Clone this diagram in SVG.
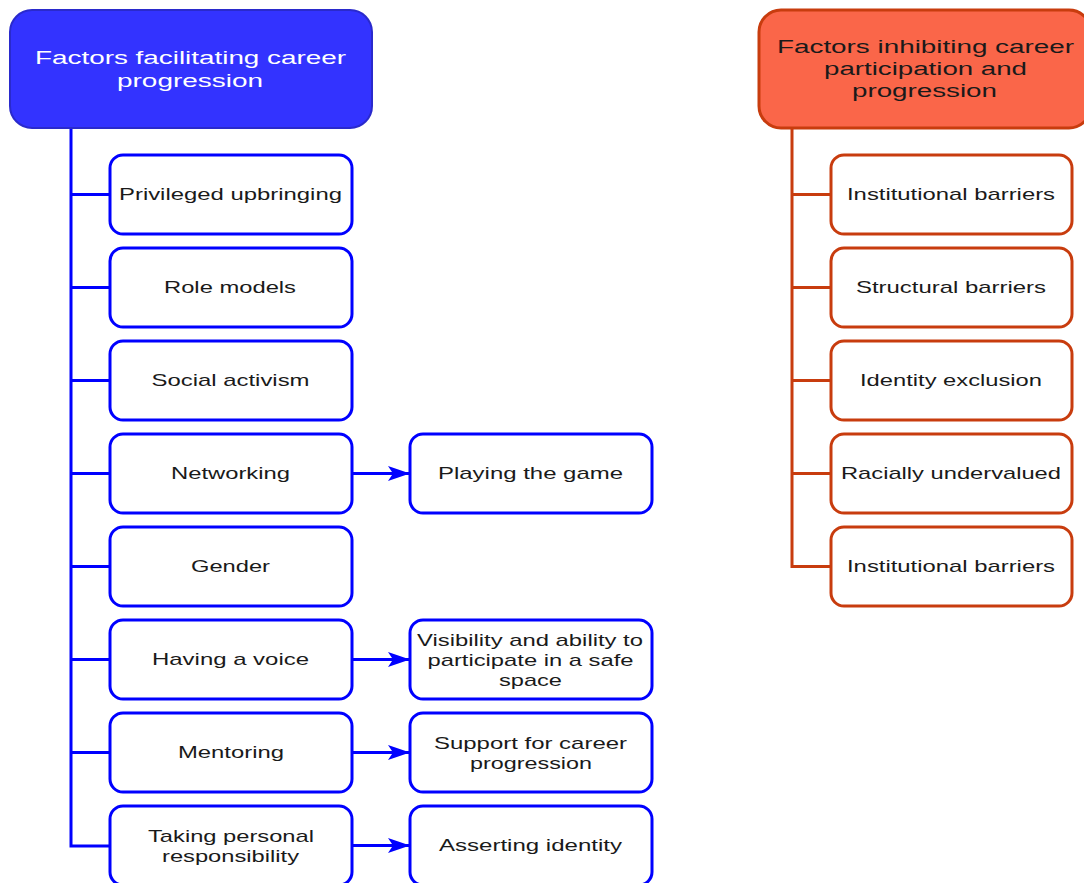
<svg xmlns="http://www.w3.org/2000/svg" width="1084" height="883" viewBox="0 0 1084 883">
  <defs>
    <marker id="arrow" markerWidth="22" markerHeight="15" refX="21" refY="7.5" orient="auto" markerUnits="userSpaceOnUse">
      <path d="M0,0 L22,7.5 L0,15 L5,7.5 Z" fill="#0000ff"/>
    </marker>
    <style>
      text { font-family: "Liberation Sans", Arial, sans-serif; text-anchor: middle; dominant-baseline: central; }
      .hdr { font-size: 18px; }
      .lbl { font-size: 17px; fill: #1a1a1a; }
      .bbox { fill: #ffffff; stroke: #0000ff; stroke-width: 3; }
      .rbox { fill: #ffffff; stroke: #c83c0e; stroke-width: 3; }
      .bline { fill: none; stroke: #0000ff; stroke-width: 3; }
      .rline { fill: none; stroke: #c83c0e; stroke-width: 3; }
    </style>
  </defs>
  <rect width="1084" height="883" fill="#ffffff"/>

  <!-- connectors -->
  <g id="connectors">
    <!-- blue tree spine and branches -->
    <path class="bline" d="M71,128 V846 H110"/>
    <path class="bline" d="M71,194.5 H110 M71,287.5 H110 M71,380.5 H110 M71,473.5 H110 M71,566.5 H110 M71,659.5 H110 M71,752.5 H110"/>
    <!-- arrows to second column -->
    <path class="bline" d="M352,473.5 H409" marker-end="url(#arrow)"/>
    <path class="bline" d="M352,659.5 H409" marker-end="url(#arrow)"/>
    <path class="bline" d="M352,752.5 H409" marker-end="url(#arrow)"/>
    <path class="bline" d="M352,845.5 H409" marker-end="url(#arrow)"/>
    <!-- red tree spine and branches -->
    <path class="rline" d="M792,128 V566.5 H831"/>
    <path class="rline" d="M792,194.5 H831 M792,287.5 H831 M792,380.5 H831 M792,473.5 H831"/>
  </g>

  <!-- headers -->
  <g id="hdr-facilitating">
    <rect x="10" y="10" width="362" height="118" rx="22" fill="#3333ff" stroke="#2a2acc" stroke-width="2"/>
    <text class="hdr" x="190.5" y="58" fill="#ffffff" textLength="311" lengthAdjust="spacingAndGlyphs">Factors facilitating career</text>
    <text class="hdr" x="190" y="81" fill="#ffffff" textLength="146" lengthAdjust="spacingAndGlyphs">progression</text>
  </g>
  <g id="hdr-inhibiting">
    <rect x="759" y="10" width="332" height="118" rx="22" fill="#fa6649" stroke="#c83c0e" stroke-width="3"/>
    <text class="hdr" x="925.5" y="47" fill="#1a1a1a" textLength="297" lengthAdjust="spacingAndGlyphs">Factors inhibiting career</text>
    <text class="hdr" x="925.5" y="69" fill="#1a1a1a" textLength="203" lengthAdjust="spacingAndGlyphs">participation and</text>
    <text class="hdr" x="924.5" y="91" fill="#1a1a1a" textLength="145" lengthAdjust="spacingAndGlyphs">progression</text>
  </g>

  <!-- facilitating factors -->
  <g id="n-privileged"><rect class="bbox" x="110" y="155" width="242" height="79" rx="13"/><text class="lbl" x="230.5" y="194.5" textLength="223" lengthAdjust="spacingAndGlyphs">Privileged upbringing</text></g>
  <g id="n-role"><rect class="bbox" x="110" y="248" width="242" height="79" rx="13"/><text class="lbl" x="230" y="287.5" textLength="132" lengthAdjust="spacingAndGlyphs">Role models</text></g>
  <g id="n-activism"><rect class="bbox" x="110" y="341" width="242" height="79" rx="13"/><text class="lbl" x="230.5" y="380.5" textLength="158" lengthAdjust="spacingAndGlyphs">Social activism</text></g>
  <g id="n-networking"><rect class="bbox" x="110" y="434" width="242" height="79" rx="13"/><text class="lbl" x="230.5" y="473.5" textLength="119" lengthAdjust="spacingAndGlyphs">Networking</text></g>
  <g id="n-gender"><rect class="bbox" x="110" y="527" width="242" height="79" rx="13"/><text class="lbl" x="230.5" y="566.5" textLength="79" lengthAdjust="spacingAndGlyphs">Gender</text></g>
  <g id="n-voice"><rect class="bbox" x="110" y="620" width="242" height="79" rx="13"/><text class="lbl" x="230.5" y="659.5" textLength="157" lengthAdjust="spacingAndGlyphs">Having a voice</text></g>
  <g id="n-mentoring"><rect class="bbox" x="110" y="713" width="242" height="79" rx="13"/><text class="lbl" x="231" y="752.5" textLength="106" lengthAdjust="spacingAndGlyphs">Mentoring</text></g>
  <g id="n-responsibility"><rect class="bbox" x="110" y="806" width="242" height="79" rx="13"/><text class="lbl" x="231" y="836" textLength="166" lengthAdjust="spacingAndGlyphs">Taking personal</text><text class="lbl" x="230.5" y="856" textLength="137" lengthAdjust="spacingAndGlyphs">responsibility</text></g>

  <!-- outcomes -->
  <g id="n-game"><rect class="bbox" x="410" y="434" width="242" height="79" rx="13"/><text class="lbl" x="530.5" y="473.5" textLength="185" lengthAdjust="spacingAndGlyphs">Playing the game</text></g>
  <g id="n-visibility"><rect class="bbox" x="410" y="620" width="242" height="79" rx="13"/><text class="lbl" x="530" y="640" textLength="226" lengthAdjust="spacingAndGlyphs">Visibility and ability to</text><text class="lbl" x="530.5" y="660" textLength="206" lengthAdjust="spacingAndGlyphs">participate in a safe</text><text class="lbl" x="530.5" y="680" textLength="63" lengthAdjust="spacingAndGlyphs">space</text></g>
  <g id="n-support"><rect class="bbox" x="410" y="713" width="242" height="79" rx="13"/><text class="lbl" x="530.5" y="743" textLength="193" lengthAdjust="spacingAndGlyphs">Support for career</text><text class="lbl" x="531" y="763" textLength="122" lengthAdjust="spacingAndGlyphs">progression</text></g>
  <g id="n-asserting"><rect class="bbox" x="410" y="806" width="242" height="79" rx="13"/><text class="lbl" x="530.5" y="845.5" textLength="183" lengthAdjust="spacingAndGlyphs">Asserting identity</text></g>

  <!-- inhibiting factors -->
  <g id="n-institutional-1"><rect class="rbox" x="831" y="155" width="241" height="79" rx="13"/><text class="lbl" x="951" y="194.5" textLength="208" lengthAdjust="spacingAndGlyphs">Institutional barriers</text></g>
  <g id="n-structural"><rect class="rbox" x="831" y="248" width="241" height="79" rx="13"/><text class="lbl" x="951" y="287.5" textLength="190" lengthAdjust="spacingAndGlyphs">Structural barriers</text></g>
  <g id="n-identity"><rect class="rbox" x="831" y="341" width="241" height="79" rx="13"/><text class="lbl" x="951" y="380.5" textLength="182" lengthAdjust="spacingAndGlyphs">Identity exclusion</text></g>
  <g id="n-racially"><rect class="rbox" x="831" y="434" width="241" height="79" rx="13"/><text class="lbl" x="951" y="473.5" textLength="220" lengthAdjust="spacingAndGlyphs">Racially undervalued</text></g>
  <g id="n-institutional-2"><rect class="rbox" x="831" y="527" width="241" height="79" rx="13"/><text class="lbl" x="951" y="566.5" textLength="208" lengthAdjust="spacingAndGlyphs">Institutional barriers</text></g>
</svg>
